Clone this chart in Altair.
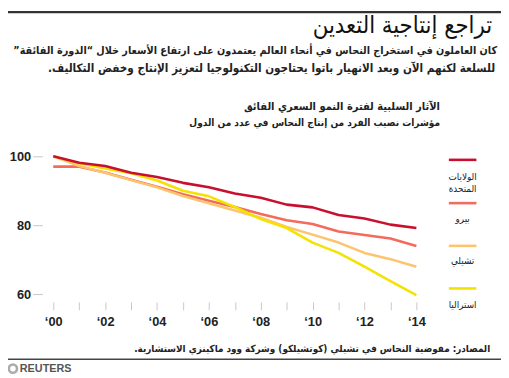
import altair as alt
import pandas as pd

years = list(range(2000, 2015))
us = [100, 98.1, 97.2, 95.2, 94.0, 92.3, 91.0, 89.2, 88.0, 86.0, 85.2, 83.0, 82.0, 80.2, 79.2]
peru = [97.0, 97.0, 95.3, 93.2, 91.2, 89.0, 87.1, 85.3, 83.3, 81.5, 80.4, 78.2, 77.2, 76.2, 74.0]
chile = [100, 97.2, 95.2, 93.1, 91.0, 88.5, 86.4, 84.3, 82.2, 79.5, 77.3, 75.0, 72.0, 70.2, 68.0]
australia = [100, 98.0, 96.5, 95.1, 93.0, 90.0, 88.4, 85.3, 81.8, 79.2, 75.0, 72.0, 68.0, 63.8, 59.8]

series_names = ["الولايات المتحدة", "بيرو", "تشيلي", "استراليا"]
legend_labels = [["الولايات", "المتحدة"], ["بيرو"], ["تشيلي"], ["استراليا"]]
colors = ["#c8102e", "#f36b5c", "#fdc46e", "#f4e200"]
series_values = [us, peru, chile, australia]
y_ticks = [60, 80, 100]

title = "تراجع إنتاجية التعدين"
subtitle = [
    "كان العاملون في استخراج النحاس في أنحاء العالم يعتمدون على ارتفاع الأسعار خلال “الدورة الفائقة”",
    "للسلعة لكنهم الآن وبعد الانهيار باتوا يحتاجون التكنولوجيا لتعزيز الإنتاج وخفض التكاليف.",
]
chart_title = [
    "الآثار السلبية لفترة النمو السعري الفائق",
    "مؤشرات نصيب الفرد من إنتاج النحاس في عدد من الدول",
]
source = "المصادر: مفوضية النحاس في تشيلي (كوتشيلكو) وشركة وود ماكينزي الاستشارية."

FONT = "Arial, Liberation Sans, DejaVu Sans, sans-serif"
AFONT = "DejaVu Sans Condensed, DejaVu Sans, sans-serif"
RLE, PDF = "\u202b", "\u202c"

OX, OY = 54, 155.7  # page position of plot origin
W, H = 369, 148


def rtl(s):
    return RLE + s + PDF


def txt(s, x, y, size, weight="normal", align="right", color="#222222", font=AFONT):
    return alt.Chart(pd.DataFrame({"t": [s]})).mark_text(
        font=font, fontSize=size, fontWeight=weight, align=align,
        baseline="middle", color=color,
    ).encode(x=alt.value(x - OX), y=alt.value(y - OY), text="t:N")


xenc = alt.X(
    "year:Q",
    scale=alt.Scale(domain=[2000, 2014], nice=False, zero=False),
    axis=alt.Axis(
        values=years, title=None, domain=False, grid=False,
        tickColor="#c8c8c8", tickSize=8, tickWidth=1,
        labelExpr="datum.value % 2 == 0 ? '‘' + substring(toString(datum.value), 2, 4) : ''",
        labelFont=FONT, labelFontSize=13, labelFontWeight="bold", labelColor="#222222",
        labelPadding=6, labelOverlap=False, labelFlush=False,
    ),
)
yenc = alt.Y(
    "v:Q",
    scale=alt.Scale(domain=[57.8, 100], nice=False, zero=False),
    axis=alt.Axis(
        values=y_ticks, title=None, domain=False, grid=False,
        tickColor="#c8c8c8", tickSize=10, tickWidth=1, offset=11,
        labelFont=FONT, labelFontSize=13, labelFontWeight="bold", labelColor="#222222",
        labelPadding=2,
    ),
)

layers = []
draw_order = [1, 2, 3, 0]
for i in draw_order:
    df = pd.DataFrame({"year": years, "v": series_values[i]})
    layers.append(
        alt.Chart(df).mark_line(strokeWidth=2.6, color=colors[i], strokeJoin="round")
        .encode(x=xenc, y=yenc)
    )

# legend
leg_line_y = [159.3, 203.3, 246.7, 290.0]
leg_text_y = [[176.5, 188.5], [219.5], [262.5], [306.5]]
for i in range(4):
    layers.append(
        alt.Chart(pd.DataFrame({"s": [series_names[i]]})).mark_rule(
            color=colors[i], strokeWidth=2.6
        ).encode(x=alt.value(456 - OX), x2=alt.value(484 - OX), y=alt.value(leg_line_y[i] - OY))
    )
    for j, lab in enumerate(legend_labels[i]):
        layers.append(txt(rtl(lab), 470, leg_text_y[i][j], 10, "normal", "center", "#222222"))

# titles
layers.append(txt(rtl(title), 500, 23, 24, "normal", color="#111111"))
layers.append(txt(rtl(subtitle[0]), 505, 49, 10.9, "bold"))
layers.append(txt(rtl(subtitle[1]), 503, 66, 11.8, "bold"))
layers.append(txt(rtl(chart_title[0]), 447, 106, 11.2, "bold"))
layers.append(txt(rtl(chart_title[1]), 447, 122, 10.2, "bold"))
layers.append(txt(rtl(source), 498, 352, 10, "bold"))

# rules
layers.append(
    alt.Chart(pd.DataFrame({"a": [0]})).mark_rule(color="#333333", strokeWidth=2.5)
    .encode(x=alt.value(0 - OX), x2=alt.value(509 - OX), y=alt.value(9.2 - OY))
)
layers.append(
    alt.Chart(pd.DataFrame({"a": [0]})).mark_rule(color="#444444", strokeWidth=1.5)
    .encode(x=alt.value(0 - OX), x2=alt.value(509 - OX), y=alt.value(362 - OY))
)
# Reuters logo
layers.append(
    alt.Chart(pd.DataFrame({"a": [0]})).mark_point(
        shape="circle", size=70, stroke="#888888", strokeWidth=2.5, filled=False
    ).encode(x=alt.value(13 - OX), y=alt.value(371.5 - OY))
)
layers.append(txt("REUTERS", 20, 372, 11, "bold", "left", "#555555", FONT))

chart = alt.layer(*layers).properties(
    width=W, height=H,
    autosize=alt.AutoSizeParams(type="none"),
    padding={"left": 46, "top": 147.7, "right": 501 - 46 - W, "bottom": 370 - 147.7 - H},
).configure_view(stroke=None)

chart.save("out.html", embed_options={"renderer": "svg", "actions": False})
